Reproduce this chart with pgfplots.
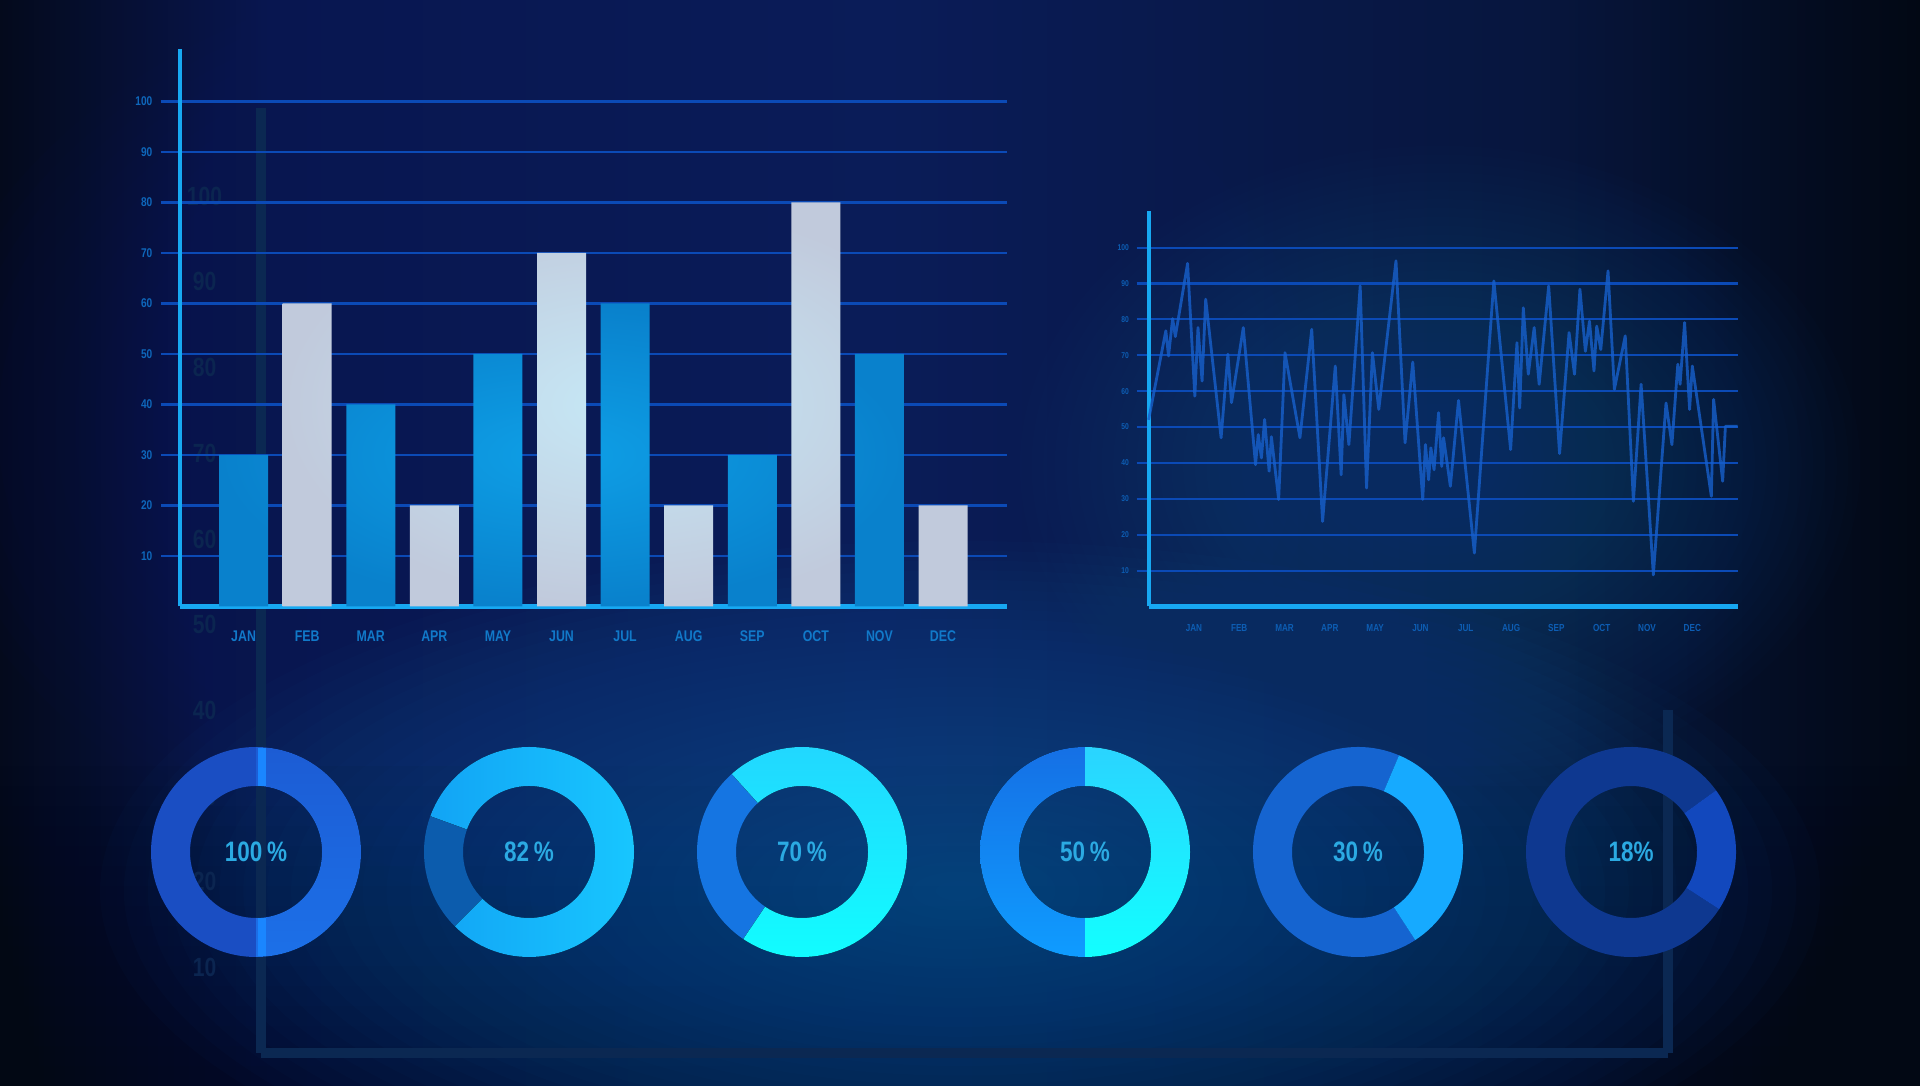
\documentclass[border=0pt]{standalone}
\usepackage{fontspec}
\setmainfont{Liberation Sans}
\newfontfamily\cond[FakeStretch=0.8]{Liberation Sans}
\usepackage{pgfplots}
\pgfplotsset{compat=1.18}
\usetikzlibrary{calc}

\definecolor{bgA}{HTML}{040A1C}
\definecolor{bgB}{HTML}{081650}
\definecolor{bgC}{HTML}{0A1C58}
\definecolor{bgD}{HTML}{07163E}
\definecolor{bgE}{HTML}{020814}
\definecolor{bgdark}{HTML}{020814}
\definecolor{glowA}{HTML}{0A5C9F}
\definecolor{glowB}{HTML}{0B4E84}
\definecolor{glowC}{HTML}{0C2470}
\definecolor{axcyan}{HTML}{17A8F2}
\definecolor{gridc}{HTML}{0B4AB6}
\definecolor{bblue}{HTML}{0981CC}
\definecolor{bblueIn}{HTML}{0E9FE6}
\definecolor{bwhite}{HTML}{C1CADC}
\definecolor{bwhiteIn}{HTML}{C6E8F6}
\definecolor{barlab}{HTML}{1179C9}
\definecolor{barylab}{HTML}{0E67BB}
\definecolor{linelab}{HTML}{0D5DB3}
\definecolor{linec}{HTML}{1760CC}
\definecolor{faint}{HTML}{0B2852}
\definecolor{faintlab}{HTML}{0B2550}
\definecolor{pcttext}{HTML}{2BAAE2}
% donut colours
\definecolor{dAl}{HTML}{1A4EC3}
\definecolor{dAt}{HTML}{1C5CD4}
\definecolor{dAb}{HTML}{1C70E8}
\definecolor{dAline}{HTML}{1A86FF}
\definecolor{dBd}{HTML}{0C5CAD}
\definecolor{dBl}{HTML}{12A4F5}
\definecolor{dBr}{HTML}{18C8FF}
\definecolor{dCd}{HTML}{1575E2}
\definecolor{dCt}{HTML}{22D6FF}
\definecolor{dCb}{HTML}{10FFFF}
\definecolor{dDlt}{HTML}{1570E5}
\definecolor{dDlb}{HTML}{0F9CFF}
\definecolor{dDrt}{HTML}{2AD4FF}
\definecolor{dDrb}{HTML}{12FFFF}
\definecolor{dEd}{HTML}{1564D0}
\definecolor{dEb}{HTML}{16AAFF}
\definecolor{dFd}{HTML}{0E3890}
\definecolor{dFb}{HTML}{1248BD}

\pgfdeclarehorizontalshading{bgh}{100bp}{color(0bp)=(bgA); color(25bp)=(bgA); color(32bp)=(bgB); color(48bp)=(bgC); color(65bp)=(bgD); color(75bp)=(bgE); color(100bp)=(bgE)}

% soft glow made of stacked translucent ellipses: x, y, rx, ry, colour, opacity
\newcommand{\glow}[6]{%
  \foreach \k in {1,...,36}{\fill[#5, opacity=#6] (#1,#2) ellipse ({#3*\k/36} and {#4*\k/36});}}

% donut ring segment: cx, cy (axis units), angle from, angle to, style
\newcommand{\seg}[5]{%
  \fill[#5] (axis cs:#1,#2) ++(#3:1.05cm) arc[start angle=#3, end angle=#4, radius=1.05cm]
    -- ($(axis cs:#1,#2)+(#4:0.66cm)$) arc[start angle=#4, end angle=#3, radius=0.66cm] -- cycle;}
\newcommand{\pct}[2]{%
  \node[text=pcttext, font=\cond\bfseries\fontsize{8}{9}\selectfont, inner sep=0pt] at (axis cs:#1,234) {#2};}

\begin{document}
\begin{tikzpicture}
\useasboundingbox (0,0) rectangle (19.2,10.86);
% ---------- background ----------
\shade[shading=bgh] (0,0) rectangle (19.2,10.86);
\foreach \k in {1,...,16}{\fill[bgdark, opacity=0.05] (0,0) rectangle (19.2,{3.2*\k/16});}
\glow{6.2}{6.6}{7.0}{4.8}{glowC}{0.028}
\glow{9.6}{1.95}{8.6}{3.5}{glowA}{0.034}
\glow{14.4}{6.2}{4.2}{3.2}{glowB}{0.028}

% ---------- faint background axis ----------
\begin{axis}[at={(2.61cm,0.33cm)}, anchor=south west, scale only axis,
  width=14.07cm, height=9.45cm, xmin=0, xmax=1, ymin=0, ymax=110.3,
  axis x line=bottom, axis y line=left,
  axis line style={-, faint, line width=2.8pt},
  xtick=\empty, ytick={10,20,...,100}, ytick style={draw=none},
  /pgf/number format/assume math mode=true,
  yticklabel style={font=\cond\bfseries\fontsize{7.5}{8}\selectfont, text=faintlab, anchor=center, xshift=-0.49cm},
  clip=false]
  \addplot[faint, line width=2.8pt] coordinates {(1,0) (1,40)};
\end{axis}

% ---------- donuts ----------
\begin{axis}[at={(0,0)}, anchor=south west, scale only axis, width=19.2cm, height=10.86cm,
  xmin=0, xmax=1920, ymin=0, ymax=1086, hide axis, clip=false]
  % 100%
  \seg{256}{234}{90}{270}{fill=dAl}
  \seg{256}{234}{-90}{90}{top color=dAt, bottom color=dAb}
  \fill[dAline] (axis cs:258,300) rectangle (axis cs:266,338);
  \fill[dAline] (axis cs:258,130) rectangle (axis cs:266,168);
  % 82%
  \seg{529}{234}{160}{225}{fill=dBd}
  \seg{529}{234}{225}{520}{left color=dBl, right color=dBr}
  % 70%
  \seg{802}{234}{132}{236}{fill=dCd}
  \seg{802}{234}{236}{492}{top color=dCt, bottom color=dCb}
  % 50%
  \seg{1085}{234}{90}{270}{top color=dDlt, bottom color=dDlb}
  \seg{1085}{234}{-90}{90}{top color=dDrt, bottom color=dDrb}
  % 30%
  \seg{1358}{234}{67}{303}{fill=dEd}
  \seg{1358}{234}{-57}{67}{fill=dEb}
  % 18%
  \seg{1631}{234}{36}{327}{fill=dFd}
  \seg{1631}{234}{-33}{36}{fill=dFb}
  % labels
  \pct{256}{100\,\%}
  \pct{529}{82\,\%}
  \pct{802}{70\,\%}
  \pct{1085}{50\,\%}
  \pct{1358}{30\,\%}
  \pct{1631}{18\%}
\end{axis}

% ---------- bar chart ----------
\begin{axis}[at={(1.80cm,4.795cm)}, anchor=south west, scale only axis,
  width=8.266cm, height=5.575cm, xmin=-1, xmax=12, ymin=0, ymax=110.4,
  axis x line=bottom, axis y line=left, axis line style={-},
  x axis line style={axcyan, line width=1.6pt},
  y axis line style={axcyan, line width=1.15pt},
  ytick={10,20,...,100}, xtick={0,...,11},
  xticklabels={JAN,FEB,MAR,APR,MAY,JUN,JUL,AUG,SEP,OCT,NOV,DEC},
  ymajorgrids, major grid style={gridc, line width=0.65pt},
  tick align=outside, major tick length=0.19cm,
  ytick style={gridc, line width=0.65pt}, xtick style={draw=none},
  /pgf/number format/assume math mode=true,
  yticklabel style={font=\cond\bfseries\fontsize{3.6}{4}\selectfont, text=barylab, anchor=east, inner sep=0pt, xshift=-0.08cm},
  xticklabel style={font=\cond\bfseries\fontsize{4.4}{5}\selectfont, text=barlab, anchor=center, inner sep=0pt, yshift=-0.105cm},
  clip=false]
  \addplot[ybar, bar width=0.49cm, bar shift=0pt, draw=none, inner color=bblueIn, outer color=bblue]
    coordinates {(0,30) (2,40) (4,50) (6,60) (8,30) (10,50)};
  \addplot[ybar, bar width=0.49cm, bar shift=0pt, draw=none, inner color=bwhiteIn, outer color=bwhite]
    coordinates {(1,60) (3,20) (5,70) (7,20) (9,80) (11,20)};
\end{axis}

% ---------- line chart ----------
\begin{axis}[at={(11.486cm,4.795cm)}, anchor=south west, scale only axis,
  width=5.89cm, height=3.959cm, xmin=-1, xmax=12, ymin=0, ymax=110.3,
  axis x line=bottom, axis y line=left, axis line style={-},
  x axis line style={axcyan, line width=1.2pt},
  y axis line style={axcyan, line width=1.1pt},
  ytick={10,20,...,100}, xtick={0,...,11},
  xticklabels={JAN,FEB,MAR,APR,MAY,JUN,JUL,AUG,SEP,OCT,NOV,DEC},
  ymajorgrids, major grid style={gridc, line width=0.6pt},
  tick align=outside, major tick length=0.12cm,
  ytick style={gridc, line width=0.6pt}, xtick style={draw=none},
  /pgf/number format/assume math mode=true,
  yticklabel style={font=\cond\bfseries\fontsize{2.4}{3}\selectfont, text=linelab, anchor=east, inner sep=0pt, xshift=-0.07cm},
  xticklabel style={font=\cond\bfseries\fontsize{2.9}{3.5}\selectfont, text=linelab, anchor=center, inner sep=0pt, yshift=-0.092cm},
  clip=false]
  \addplot[linec, line width=0.8pt, line join=round, opacity=0.8] coordinates {
    (-1.0,52)(-0.62,76.8)(-0.56,69.8)(-0.47,80.2)(-0.41,75.2)(-0.14,95.6)(0.02,58.6)(0.09,77.7)(0.18,62.8)(0.26,85.6)
    (0.60,47)(0.75,70.3)(0.83,56.8)(1.09,77.7)(1.36,39.5)(1.42,47.9)(1.49,41.4)(1.56,52.1)(1.66,37.7)(1.71,47.3)
    (1.87,29.8)(2.01,70.7)(2.34,47)(2.60,77.2)(2.84,23.7)(3.12,67)(3.25,36.7)(3.31,59)(3.42,45.1)(3.67,89.3)
    (3.81,33)(3.94,70.7)(4.08,54.9)(4.46,96.3)(4.66,45.6)(4.83,68.1)(5.05,29.8)(5.11,45.1)(5.18,35.3)(5.23,44.2)
    (5.30,38.1)(5.40,54)(5.47,39)(5.51,47)(5.66,33.5)(5.84,57.4)(6.19,14.9)(6.62,90.7)(6.99,43.7)(7.13,73.5)
    (7.19,55.3)(7.27,83.2)(7.38,64.7)(7.51,77.7)(7.62,61.9)(7.83,89.3)(8.07,42.6)(8.28,76.3)(8.40,64.7)(8.52,88.4)
    (8.64,71.1)(8.73,79.5)(8.83,65.6)(8.89,78.1)(8.98,71.6)(9.14,93.5)(9.28,60.5)(9.52,75.4)(9.70,29.3)(9.87,61.9)
    (10.14,8.8)(10.42,56.7)(10.55,45.1)(10.68,67.5)(10.73,61.9)(10.83,79.1)(10.94,54.9)(11.00,67)(11.42,30.7)(11.47,57.7)
    (11.67,34.9)(11.73,50.2)(12.0,50.2)};
\end{axis}
\end{tikzpicture}
\end{document}
